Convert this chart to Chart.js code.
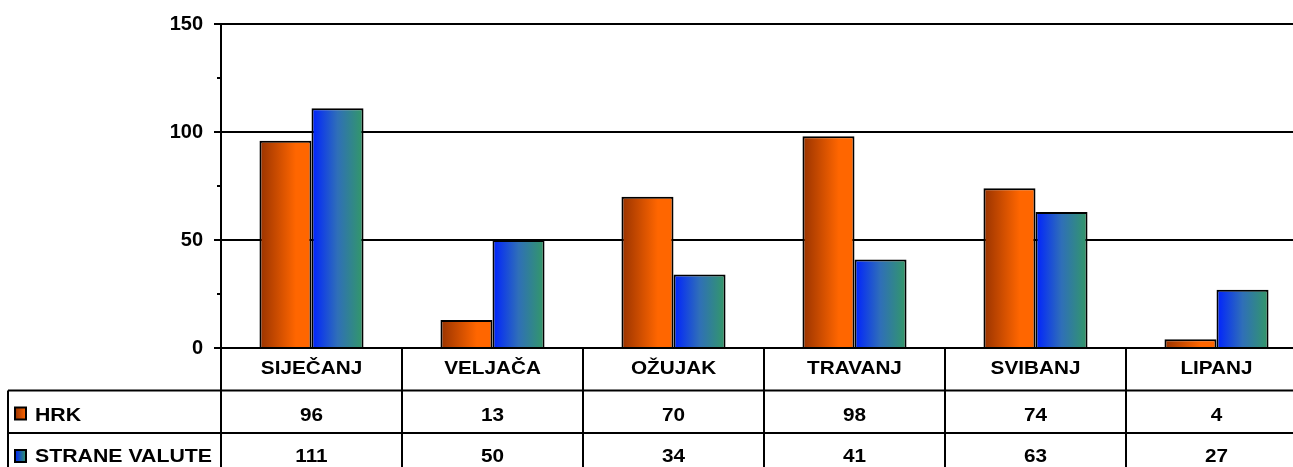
<!DOCTYPE html>
<html>
<head>
<meta charset="utf-8">
<script src="https://cdn.jsdelivr.net/npm/chart.js@4.4.0/dist/chart.umd.min.js"></script>
<style>
  html, body { margin: 0; padding: 0; background: #fff; overflow: hidden; }
  #wrap { width: 1307px; height: 467px; }
</style>
</head>
<body>
<div id="wrap"><canvas id="chart" width="1307" height="467"></canvas></div>
<script>
// mjeseci i iznosi po valuti
const categories = ["SIJEČANJ", "VELJAČA", "OŽUJAK", "TRAVANJ", "SVIBANJ", "LIPANJ"];
const seriesNames = ["HRK", "STRANE VALUTE"];
const hrkValues = [96, 13, 70, 98, 74, 4];
const straneValues = [111, 50, 34, 41, 63, 27];
const yTicks = [0, 50, 100, 150];
const minorTicks = [25, 75, 125];

const FONT = "'Liberation Sans', Arial, sans-serif";
const GROUP = 0.575;            // udio kategorije koji zauzimaju stupci
const STRETCH = 1.12;           // tekst u tablici je malo razvučen
const gradHRK = ["#993300", "#FF6600", "#FF6600"];
const gradStrane = ["#0022FF", "#2F6FB8", "#339966"];

// gradijent lijevo-desno preko jednog stupca
function barGradient(c, stops) {
  const chart = c.chart;
  const xs = chart.scales.x;
  if (!xs || c.dataIndex === undefined || !xs.width) return stops[1];
  const catW = xs.width / categories.length;
  const barW = catW * GROUP / 2;
  const mid = xs.getPixelForValue(c.dataIndex);
  const left = c.datasetIndex === 0 ? mid - barW : mid;
  const g = chart.ctx.createLinearGradient(left, 0, left + barW, 0);
  if (stops === gradHRK) {
    g.addColorStop(0, stops[0]);
    g.addColorStop(0.7, stops[1]);
    g.addColorStop(1, stops[2]);
  } else {
    g.addColorStop(0, stops[0]);
    g.addColorStop(0.5, stops[1]);
    g.addColorStop(1, stops[2]);
  }
  return g;
}

function legendGradient(ctx, x, w, stops) {
  const g = ctx.createLinearGradient(x, 0, x + w, 0);
  g.addColorStop(0, stops[0]);
  g.addColorStop(1, stops[2]);
  return g;
}

function drawText(ctx, txt, x, y, align) {
  ctx.save();
  ctx.translate(x, y);
  ctx.scale(STRETCH, 1);
  ctx.textAlign = align;
  ctx.textBaseline = "alphabetic";
  ctx.fillText(txt, 0, 0);
  ctx.restore();
}

// sporedne crtice na osi y
const minorTickPlugin = {
  id: "minorTicks",
  afterDraw(chart) {
    const ys = chart.scales.y;
    const ctx = chart.ctx;
    ctx.save();
    ctx.strokeStyle = "#000";
    ctx.lineWidth = 2;
    minorTicks.forEach(v => {
      const y = Math.round(ys.getPixelForValue(v));
      ctx.beginPath();
      ctx.moveTo(chart.chartArea.left - 4, y);
      ctx.lineTo(chart.chartArea.left, y);
      ctx.stroke();
    });
    ctx.restore();
  }
};

// tablica podataka ispod grafikona
const dataTablePlugin = {
  id: "dataTable",
  afterDraw(chart) {
    const ctx = chart.ctx;
    const xs = chart.scales.x;
    const area = chart.chartArea;
    const W = chart.width;
    const H = chart.height;
    const top = area.bottom;
    const rowH = 42.5;
    const row1 = top + rowH;
    const row2 = top + 2 * rowH;
    const catW = xs.width / categories.length;
    const legendLeft = 8;

    ctx.save();
    ctx.strokeStyle = "#000";
    ctx.lineWidth = 2;
    ctx.beginPath();
    ctx.moveTo(area.left, top); ctx.lineTo(W, top);
    ctx.moveTo(legendLeft, row1); ctx.lineTo(W, row1);
    ctx.moveTo(legendLeft, row2); ctx.lineTo(W, row2);
    ctx.moveTo(legendLeft, row1); ctx.lineTo(legendLeft, H);
    ctx.moveTo(area.left, top); ctx.lineTo(area.left, H);
    categories.forEach((c, i) => {
      const x = Math.round(xs.getPixelForValue(i) + catW / 2);
      ctx.moveTo(x, top); ctx.lineTo(x, H);
    });
    ctx.stroke();

    ctx.fillStyle = "#000";
    ctx.font = "bold 18.5px " + FONT;
    const rows = [hrkValues, straneValues];
    categories.forEach((c, i) => {
      const x = xs.getPixelForValue(i);
      drawText(ctx, c, x, top + 26, "center");
      drawText(ctx, String(rows[0][i]), x, row1 + 30, "center");
      drawText(ctx, String(rows[1][i]), x, row2 + 29, "center");
    });

    // legenda u prvom stupcu tablice
    ctx.font = "bold 19px " + FONT;
    const grads = [gradHRK, gradStrane];
    seriesNames.forEach((name, k) => {
      const base = top + (k + 1) * rowH;
      const by = base + 30;
      ctx.fillStyle = legendGradient(ctx, 15, 11, grads[k]);
      ctx.fillRect(15, by - 13, 11, 12);
      ctx.lineWidth = 2;
      ctx.strokeRect(15, by - 13, 11, 12);
      ctx.fillStyle = "#000";
      drawText(ctx, name, 35, by + (k === 1 ? -1 : 0), "left");
    });
    ctx.restore();
  }
};

const ctx = document.getElementById("chart").getContext("2d");
new Chart(ctx, {
  type: "bar",
  data: {
    labels: categories,
    datasets: [
      {
        label: seriesNames[0],
        data: hrkValues,
        backgroundColor: c => barGradient(c, gradHRK),
        borderColor: "#000",
        borderWidth: 2
      },
      {
        label: seriesNames[1],
        data: straneValues,
        backgroundColor: c => barGradient(c, gradStrane),
        borderColor: "#000",
        borderWidth: 2
      }
    ]
  },
  options: {
    responsive: false,
    animation: false,
    devicePixelRatio: 1,
    layout: { padding: { top: 24, right: 0, bottom: 0, left: 0 } },
    datasets: { bar: { barPercentage: 1, categoryPercentage: GROUP } },
    plugins: {
      legend: { display: false },
      tooltip: { enabled: false },
      title: { display: false }
    },
    scales: {
      x: {
        ticks: { display: false },
        grid: { display: false, drawTicks: false },
        border: { display: false },
        afterFit: s => { s.height = 119; }
      },
      y: {
        min: 0,
        max: 150,
        afterBuildTicks: s => { s.ticks = yTicks.map(v => ({ value: v })); },
        ticks: {
          color: "#000",
          padding: 11,
          font: { family: FONT, size: 20, weight: "bold" }
        },
        grid: { color: "#000", lineWidth: 2, tickLength: 7, tickColor: "#000" },
        border: { color: "#000", width: 2 },
        afterFit: s => { s.width = 221; }
      }
    }
  },
  plugins: [minorTickPlugin, dataTablePlugin]
});
</script>
</body>
</html>
